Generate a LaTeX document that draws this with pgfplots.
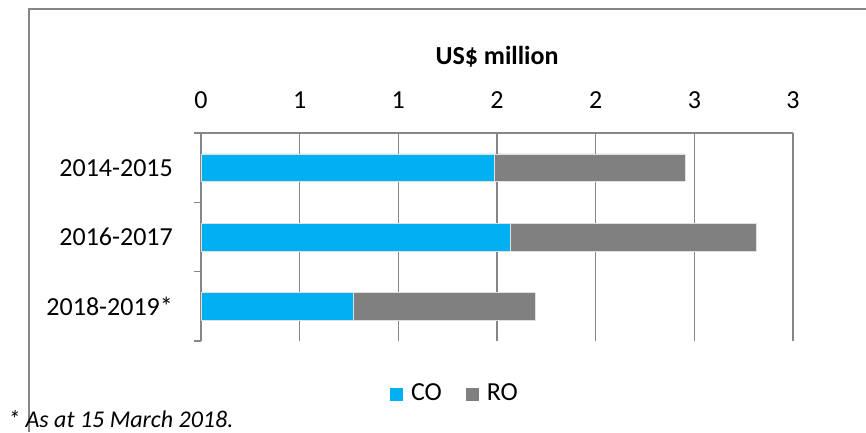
\documentclass[border=0pt]{standalone}
\usepackage{pgfplots}
\pgfplotsset{compat=1.18}
\usepackage{fontspec}
\setmainfont{Carlito}
\definecolor{cob}{HTML}{00B0F0}
\definecolor{rog}{HTML}{808080}
\definecolor{gridc}{HTML}{868686}
\begin{document}
\fontsize{26pt}{31pt}\selectfont
\begin{tikzpicture}[x=1pt,y=1pt]
\path[use as bounding box] (0,0) rectangle (866,432);
\draw[gridc, line width=1.3pt] (29,0) -- (29,423) -- (870,423);
\begin{axis}[
  at={(201pt,91pt)}, anchor=south west,
  scale only axis, width=592pt, height=208pt,
  xbar stacked, bar width=27.6pt,
  xmin=0, xmax=3, ymin=-0.5, ymax=2.5,
  axis x line*=top, axis y line*=left,
  axis line style={gridc, line width=1.3pt},
  xtick={0,0.5,1,1.5,2,2.5,3},
  xticklabels={0,1,1,2,2,3,3},
  ytick={0,1,2},
  yticklabels={2018-2019*,2016-2017,2014-2015},
  minor ytick={-0.5,0.5,1.5,2.5},
  major tick length=0pt, minor tick length=7pt, tick align=outside,
  every tick/.style={gridc, line width=1.3pt},
  xmajorgrids, ymajorgrids=false,
  major grid style={gridc, line width=1.3pt},
  /pgf/number format/assume math mode=true,
  xticklabel style={anchor=base, inner sep=0pt, yshift=25pt},
  yticklabel style={anchor=east, inner sep=0pt, xshift=-28pt},
  xlabel={\textbf{US\$ million}},
  xlabel style={at={(axis description cs:0.5,1)}, anchor=base, inner sep=0pt, yshift=69pt},
  legend columns=-1,
  legend style={draw=none, fill=none, at={(axis description cs:0.429,-0.255)}, anchor=center,
    /tikz/every odd column/.append style={column sep=6pt},
    /tikz/every even column/.append style={column sep=22pt}},
  legend image code/.code={\fill[#1, draw=none] (0pt,-7pt) rectangle (13pt,6pt);},
]
\addplot[fill=cob, draw=black!12, line width=0.6pt] coordinates {(1.486,2) (1.566,1) (0.770,0)};
\addplot[fill=rog, draw=black!12, line width=0.6pt] coordinates {(0.966,2) (1.250,1) (0.924,0)};
\legend{CO,RO}
\end{axis}
\node[anchor=base west, inner sep=0pt, font=\itshape\fontsize{24pt}{29pt}\selectfont] at (8,5) {* As at 15 March 2018.};
\end{tikzpicture}
\end{document}
